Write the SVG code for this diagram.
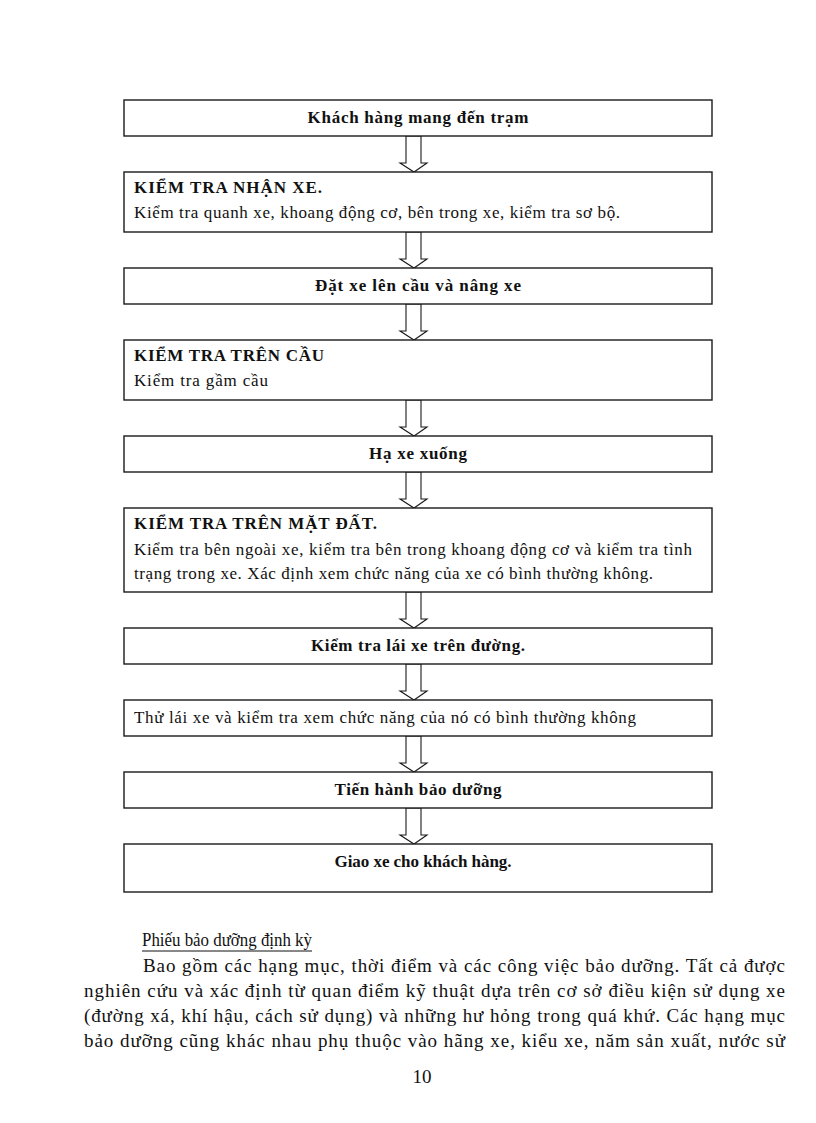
<svg xmlns="http://www.w3.org/2000/svg" width="816" height="1123" viewBox="0 0 816 1123">
<style>
.box{fill:#fff;stroke:#1a1a1a;stroke-width:1.4}
.arr{fill:#fff;stroke:#1a1a1a;stroke-width:1.1;stroke-linejoin:miter}
.t{font-family:"Liberation Serif","Times New Roman",serif;fill:#111}
.b{font-weight:bold;font-size:17px}
.n{font-size:17px}
.c{text-anchor:middle}
.p{font-size:19px}
</style>
<rect width="816" height="1123" fill="#fff"/>
<g id="connectors">
<polygon class="arr" points="406,136 421,136 421,163 427,163 414,172 400,163 406,163"/>
<polygon class="arr" points="406,232 421,232 421,259 427,259 414,268 400,259 406,259"/>
<polygon class="arr" points="406,304 421,304 421,331 427,331 414,340 400,331 406,331"/>
<polygon class="arr" points="406,400 421,400 421,427 427,427 414,436 400,427 406,427"/>
<polygon class="arr" points="406,472 421,472 421,499 427,499 414,508 400,499 406,499"/>
<polygon class="arr" points="406,592 421,592 421,619 427,619 414,628 400,619 406,619"/>
<polygon class="arr" points="406,664 421,664 421,691 427,691 414,700 400,691 406,691"/>
<polygon class="arr" points="406,736 421,736 421,763 427,763 414,772 400,763 406,763"/>
<polygon class="arr" points="406,808 421,808 421,835 427,835 414,844 400,835 406,835"/>
</g>
<g id="n1"><rect class="box" x="124" y="100" width="588" height="36"/>
<text class="t b c" x="418" y="123" textLength="221" lengthAdjust="spacing">Khách hàng mang đến trạm</text></g>
<g id="n2"><rect class="box" x="124" y="172" width="588" height="60"/>
<text class="t b" x="134" y="193" textLength="188" lengthAdjust="spacing">KIỂM TRA NHẬN XE.</text>
<text class="t n" x="134" y="218" textLength="486" lengthAdjust="spacing">Kiểm tra quanh xe, khoang động cơ, bên trong xe, kiểm tra sơ bộ.</text></g>
<g id="n3"><rect class="box" x="124" y="268" width="588" height="36"/>
<text class="t b c" x="418" y="291" textLength="206" lengthAdjust="spacing">Đặt xe lên cầu và nâng xe</text></g>
<g id="n4"><rect class="box" x="124" y="340" width="588" height="60"/>
<text class="t b" x="134" y="361" textLength="190" lengthAdjust="spacing">KIỂM TRA TRÊN CẦU</text>
<text class="t n" x="134" y="386" textLength="134" lengthAdjust="spacing">Kiểm tra gầm cầu</text></g>
<g id="n5"><rect class="box" x="124" y="436" width="588" height="36"/>
<text class="t b c" x="418" y="459" textLength="98" lengthAdjust="spacing">Hạ xe xuống</text></g>
<g id="n6"><rect class="box" x="124" y="508" width="588" height="84"/>
<text class="t b" x="134" y="529" textLength="243" lengthAdjust="spacing">KIỂM TRA TRÊN MẶT ĐẤT.</text>
<text class="t n" x="134" y="555" textLength="558" lengthAdjust="spacing">Kiểm tra bên ngoài xe, kiểm tra bên trong khoang động cơ và kiểm tra tình</text>
<text class="t n" x="134" y="579" textLength="519" lengthAdjust="spacing">trạng trong xe. Xác định xem chức năng của xe có bình thường không.</text></g>
<g id="n7"><rect class="box" x="124" y="628" width="588" height="36"/>
<text class="t b c" x="418" y="651" textLength="214" lengthAdjust="spacing">Kiểm tra lái xe trên đường.</text></g>
<g id="n8"><rect class="box" x="124" y="700" width="588" height="36"/>
<text class="t n" x="134" y="723" textLength="502" lengthAdjust="spacing">Thử lái xe và kiểm tra xem chức năng của nó có bình thường không</text></g>
<g id="n9"><rect class="box" x="124" y="772" width="588" height="36"/>
<text class="t b c" x="418" y="795" textLength="167" lengthAdjust="spacing">Tiến hành bảo dưỡng</text></g>
<g id="n10"><rect class="box" x="124" y="844" width="588" height="48"/>
<text class="t b c" x="423" y="867" textLength="177" lengthAdjust="spacing">Giao xe cho khách hàng.</text></g>
<g id="body">
<text class="t" x="142" y="946" font-size="19" textLength="170" lengthAdjust="spacingAndGlyphs">Phiếu bảo dưỡng định kỳ</text>
<line x1="142" y1="951" x2="312" y2="951" stroke="#111" stroke-width="1"/>
<text class="t p" x="143" y="972" textLength="642" lengthAdjust="spacing">Bao gồm các hạng mục, thời điểm và các công việc bảo dưỡng. Tất cả được</text>
<text class="t p" x="84" y="997" textLength="701" lengthAdjust="spacing">nghiên cứu và xác định từ quan điểm kỹ thuật dựa trên cơ sở điều kiện sử dụng xe</text>
<text class="t p" x="84" y="1022" textLength="701" lengthAdjust="spacing">(đường xá, khí hậu, cách sử dụng) và những hư hỏng trong quá khứ. Các hạng mục</text>
<text class="t p" x="84" y="1047" textLength="701" lengthAdjust="spacing">bảo dưỡng cũng khác nhau phụ thuộc vào hãng xe, kiểu xe, năm sản xuất, nước sử</text>
<text class="t p c" x="422" y="1083">10</text>
</g>
</svg>
